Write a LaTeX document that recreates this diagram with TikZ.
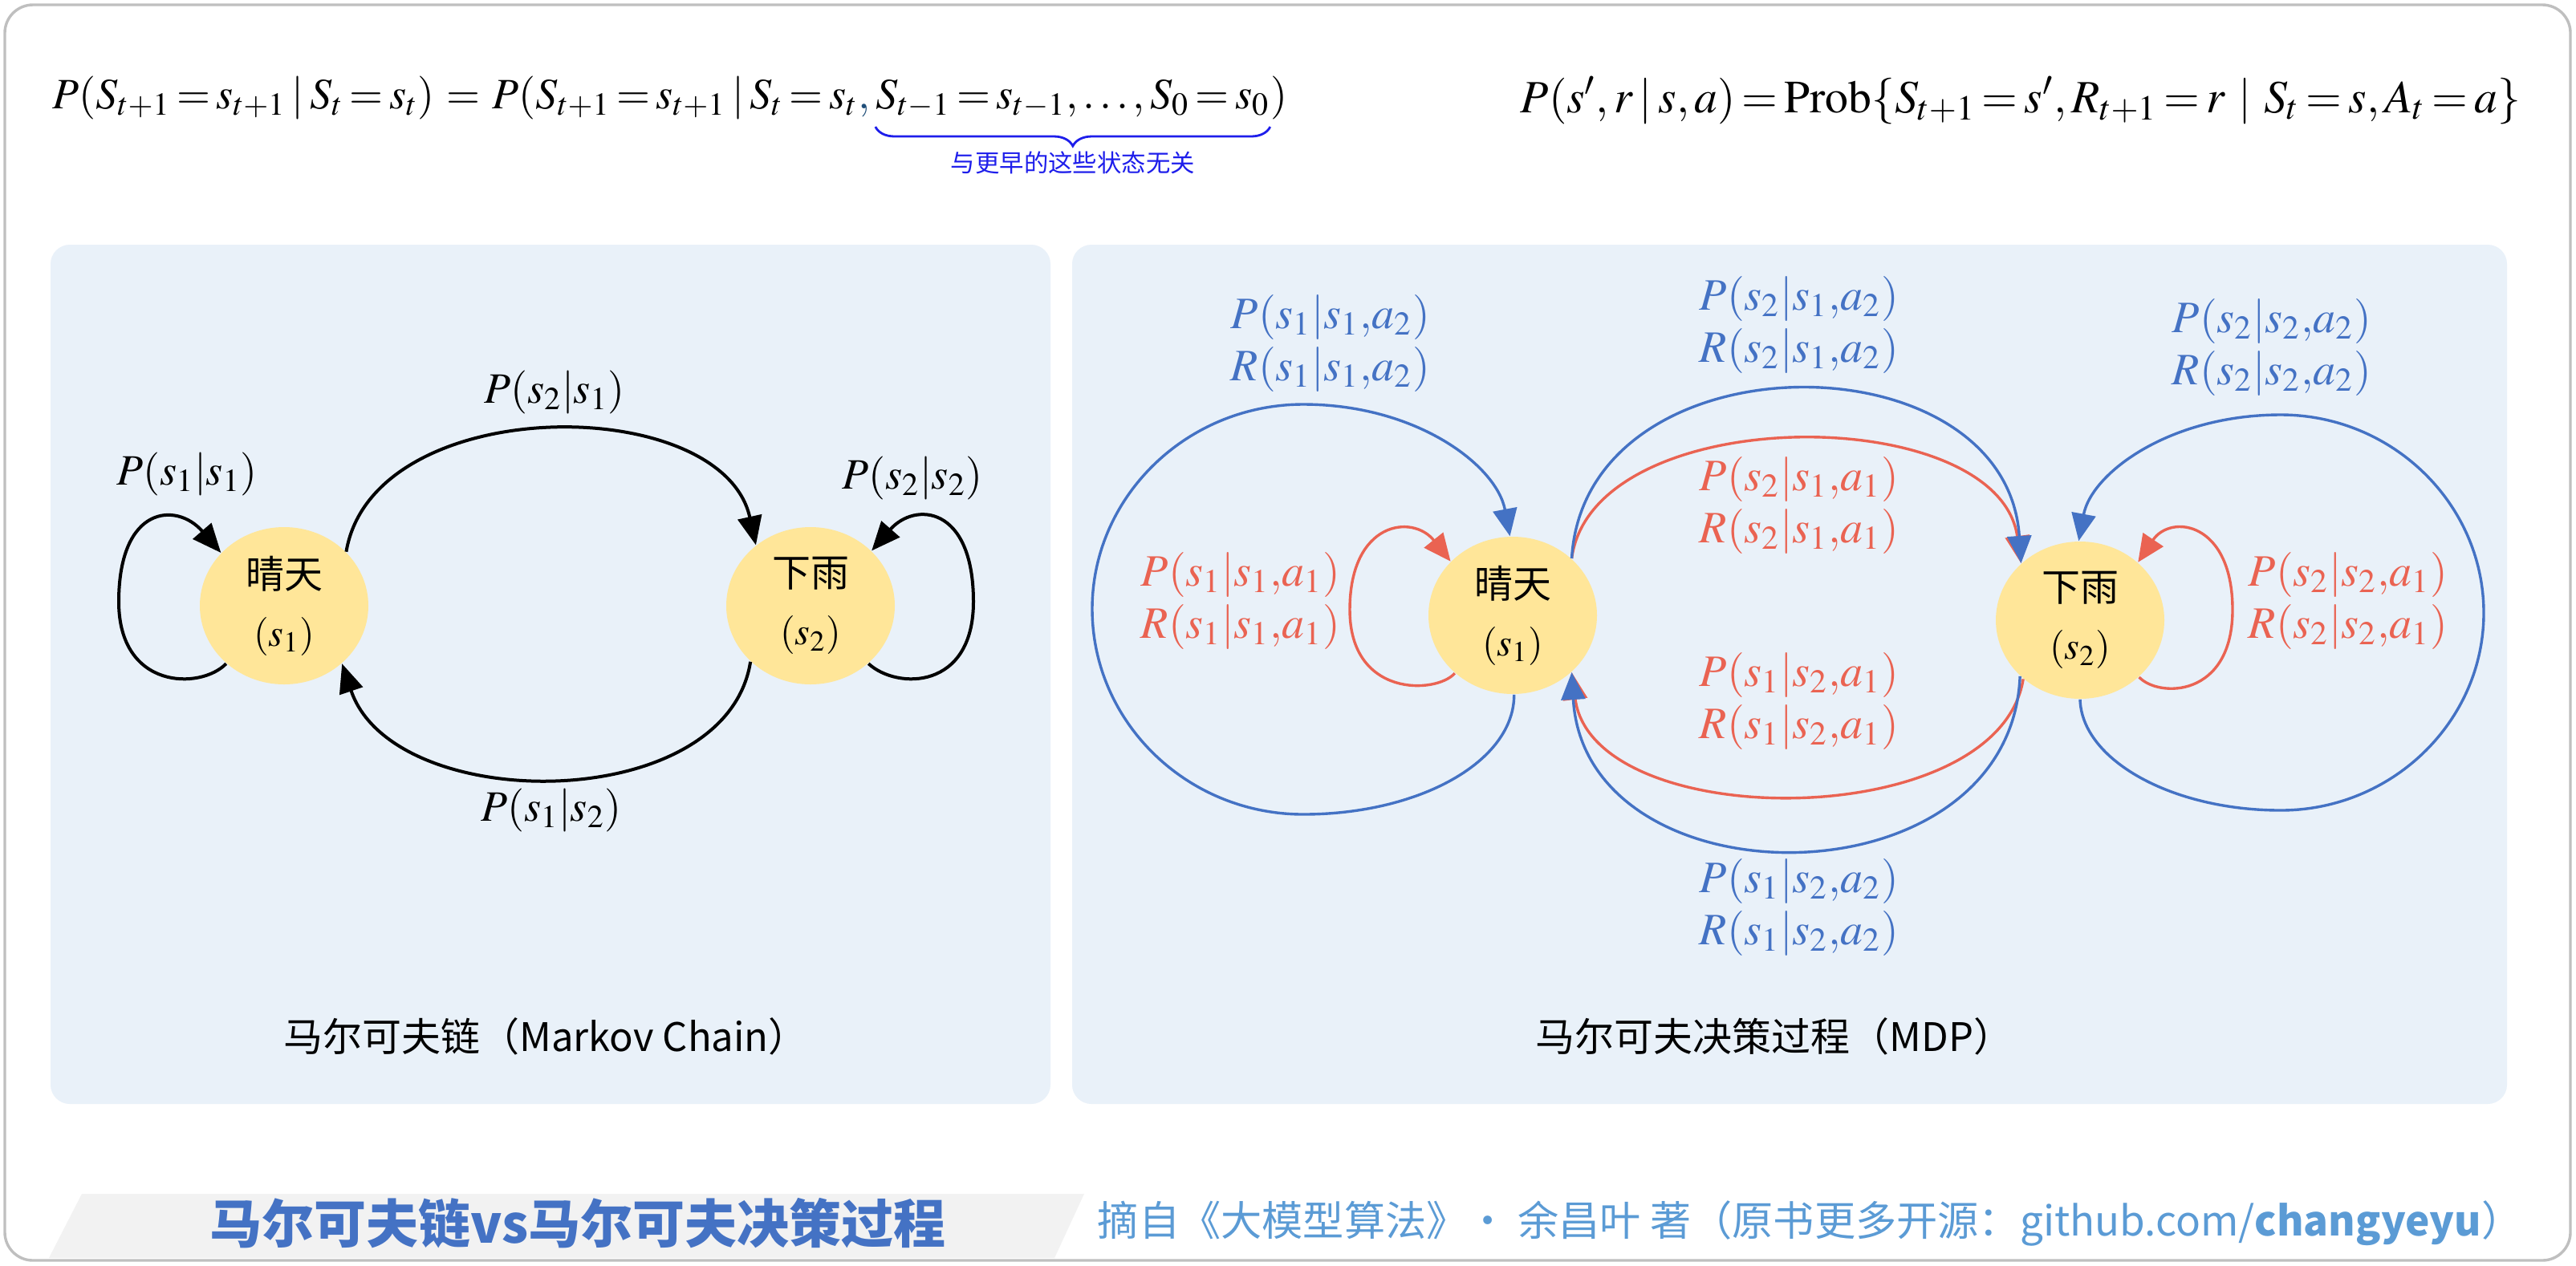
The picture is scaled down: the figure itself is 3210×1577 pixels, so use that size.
\documentclass[tikz,border=0pt]{standalone}
\usepackage{mathptmx}
\usepackage[no-math]{fontspec}
\newfontfamily\cjk{Noto Sans CJK SC}
\usetikzlibrary{arrows.meta,shapes.geometric,decorations.pathreplacing}
\definecolor{panelbg}{RGB}{233,241,249}
\definecolor{nodefill}{RGB}{255,230,153}
\definecolor{mblue}{RGB}{68,114,196}
\definecolor{mred}{RGB}{234,99,82}
\definecolor{footblue}{RGB}{91,155,213}
\definecolor{titleblue}{RGB}{68,114,196}
\definecolor{bracecol}{RGB}{30,30,235}
\definecolor{commablue}{RGB}{31,78,121}
\definecolor{framegray}{RGB}{191,191,191}
\definecolor{footgray}{RGB}{242,242,242}
\thickmuskip=2.5mu
\tikzset{
  state/.style={ellipse, fill=nodefill, minimum width=52.5pt, minimum height=49pt, inner sep=0pt, align=center, font=\cjk\fontsize{12}{18}\selectfont},
  chain/.style={line width=1pt, -{Triangle[length=9pt,width=7.5pt]}},
  bluee/.style={mblue, line width=0.85pt, -{Triangle[length=8.5pt,width=7.5pt]}},
  rede/.style={mred, line width=0.85pt, -{Triangle[length=8.5pt,width=7.5pt]}},
  clbl/.style={inner sep=0pt, font=\fontsize{13.5}{16}\selectfont},
  mlbl/.style={inner sep=0pt, align=center, font=\fontsize{14}{16.25}\selectfont},
  captxt/.style={inner sep=0pt, font=\cjk\fontsize{12.25}{14}\selectfont},
  formula/.style={anchor=base west, inner sep=0pt, font=\fontsize{13.5}{17}\selectfont},
}
\begin{document}
\begin{tikzpicture}[x=0.25pt,y=-0.25pt]
\useasboundingbox (0,0) rectangle (3210,1577);
% frame
\draw[framegray, line width=0.85pt, rounded corners=8.75pt, fill=white] (6,6) rectangle (3203,1571);
% panels
\fill[panelbg, rounded corners=6pt] (63,305) rectangle (1309,1376);
\fill[panelbg, rounded corners=6pt] (1336,305) rectangle (3124,1376);
% formulas
\node[formula] (f1a) at (65,135)
  {$P(S_{t+1}=s_{t+1}\mid S_t=s_t)\;=\;P(S_{t+1}=s_{t+1}\mid S_t=s_t{\color{commablue},}\,$};
\node[formula] (f1b) at (f1a.base east) {$S_{t-1}=s_{t-1},\ldots,S_0=s_0$};
\node[formula] (f1c) at (f1b.base east) {$)$};
\node[formula, font=\fontsize{14.4}{17}\selectfont] (f2) at (1894,140)
  {$P(s',r\mid s,a)=\mathrm{Prob}\{S_{t+1}=s',R_{t+1}=r\;\mid\;S_t=s,A_t=a\}$};
\draw[bracecol, line width=0.7pt, decorate, decoration={brace,amplitude=6pt,mirror}] ([yshift=-5.75pt]f1b.base west) -- ([yshift=-5.75pt]f1b.base east);
\node[text=bracecol, inner sep=0pt, font=\cjk\fontsize{7.6}{9}\selectfont] (bt) at ([yshift=-17pt]f1b.base) {与更早的这些状态无关};
% Markov chain
\node[state] (a1) at (354,755) {晴天\\$(s_1)$};
\node[state] (a2) at (1010,755) {下雨\\$(s_2)$};
\draw[chain] (a1.41) .. controls (465,488) and (900,488) .. (a2.132);
\draw[chain] (a2.223) .. controls (905,1017) and (490,1017) .. (a1.315);
\draw[chain] (a1.225) .. controls (250,860) and (148,860) .. (148,750) .. controls (148,630) and (220,625) .. (a1.140);
\draw[chain] (a2.315) .. controls (1118,860) and (1213,860) .. (1213,750) .. controls (1213,630) and (1140,625) .. (a2.42);
\node[clbl] (l12) at (691,489) {$P(s_2|s_1)$};
\node[clbl] (l21) at (687,1010) {$P(s_1|s_2)$};
\node[clbl] (l11) at (233,591) {$P(s_1|s_1)$};
\node[clbl] (l22) at (1137,596) {$P(s_2|s_2)$};
\node[captxt] (c1) at (680,1292) {马尔可夫链（Markov Chain）};
% MDP
\node[state] (b1) at (1885,767) {晴天\\$(s_1)$};
\node[state] (b2) at (2592,773) {下雨\\$(s_2)$};
\draw[rede] (b1.225) .. controls (1790,865) and (1682,870) .. (1682,760) .. controls (1682,650) and (1760,640) .. (b1.139);
\draw[rede] (b2.316) .. controls (2690,870) and (2782,870) .. (2782,760) .. controls (2782,650) and (2705,640) .. (b2.45);
\draw[rede] (b1.44) .. controls (1985,499) and (2490,499) .. (b2.136);
\draw[rede] (b2.226) .. controls (2490,1040) and (1985,1040) .. (b1.316);
\draw[bluee] (b1.271) .. controls (1887,949) and (1769,1015) .. (1624,1015) .. controls (1479,1015) and (1361,900) .. (1361,759) .. controls (1361,619) and (1479,504) .. (1624,504) .. controls (1765,504) and (1865,580) .. (b1.92);
\draw[bluee] (b2.270) .. controls (2594,947) and (2706,1010) .. (2842,1010) .. controls (2981,1010) and (3095,899) .. (3095,764) .. controls (3095,628) and (2981,517) .. (2842,517) .. controls (2703,517) and (2606,590) .. (b2.91);
\draw[bluee] (b1.44) .. controls (1975,416) and (2500,416) .. (b2.136);
\draw[bluee] (b2.223) .. controls (2505,1131) and (1975,1131) .. (b1.316);
\node[mlbl, text=mblue] (m11b) at (1658,428) {$P(s_1|s_1{,}a_2)$\\$R(s_1|s_1{,}a_2)$};
\node[mlbl, text=mred] (m11r) at (1546,749) {$P(s_1|s_1{,}a_1)$\\$R(s_1|s_1{,}a_1)$};
\node[mlbl, text=mblue] (m21b) at (2242,405) {$P(s_2|s_1{,}a_2)$\\$R(s_2|s_1{,}a_2)$};
\node[mlbl, text=mred] (m21r) at (2242,630) {$P(s_2|s_1{,}a_1)$\\$R(s_2|s_1{,}a_1)$};
\node[mlbl, text=mred] (m12r) at (2242,874) {$P(s_1|s_2{,}a_1)$\\$R(s_1|s_2{,}a_1)$};
\node[mlbl, text=mblue] (m12b) at (2242,1131) {$P(s_1|s_2{,}a_2)$\\$R(s_1|s_2{,}a_2)$};
\node[mlbl, text=mblue] (m22b) at (2831,433) {$P(s_2|s_2{,}a_2)$\\$R(s_2|s_2{,}a_2)$};
\node[mlbl, text=mred] (m22r) at (2926,749) {$P(s_2|s_2{,}a_1)$\\$R(s_2|s_2{,}a_1)$};
\node[captxt] (c2) at (2211,1292) {马尔可夫决策过程（MDP）};
% footer
\fill[footgray] (102,1488) -- (1351,1488) -- (1314,1568) -- (61,1568) -- cycle;
\node[inner sep=0pt, text=titleblue, font=\cjk\bfseries\fontsize{16.25}{18}\selectfont] (title) at (720,1525) {马尔可夫链vs马尔可夫决策过程};
\node[anchor=west, inner sep=0pt, text=footblue, font=\cjk\fontsize{12.8}{14}\selectfont] (foot) at (1367,1525) {摘自《大模型算法》· 余昌叶 著（原书更多开源：github.com/\textbf{changyeyu}）};
\end{tikzpicture}
\end{document}
